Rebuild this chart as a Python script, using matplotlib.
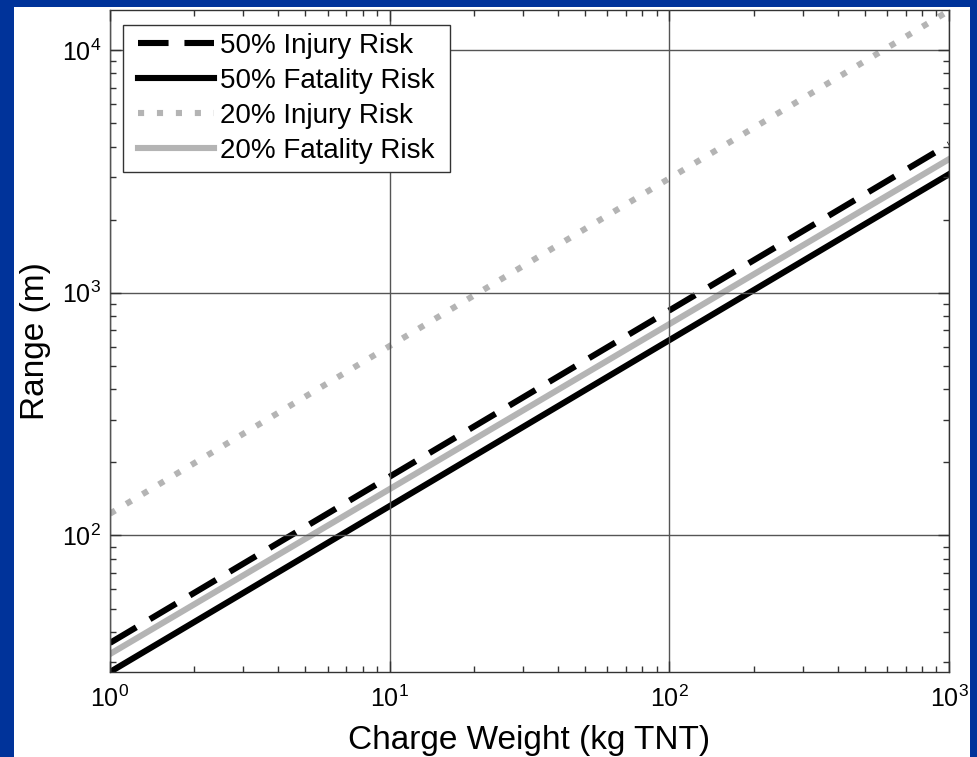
import matplotlib
matplotlib.use("Agg")
import matplotlib.pyplot as plt
import numpy as np
from matplotlib.patches import Rectangle

plt.rcParams['font.family'] = ['Liberation Sans', 'DejaVu Sans']
plt.rcParams['mathtext.fontset'] = 'custom'
plt.rcParams['mathtext.rm'] = 'Liberation Sans'
plt.rcParams['mathtext.it'] = 'Liberation Sans'

# Data: charge weight (kg TNT) endpoints and range (m)
charge_weight = [1, 1000]
inj50 = [36.1, 4090]
fat50 = [27.4, 3076]
inj20 = [123, 14500]
fat20 = [32.5, 3548]

labels = ["50% Injury Risk", "50% Fatality Risk", "20% Injury Risk", "20% Fatality Risk"]
xtick_vals = [1, 10, 100, 1000]
ytick_vals = [100, 1000, 10000]

W, H = 978, 757
fig = plt.figure(figsize=(W / 100, H / 100), dpi=100)
fig.patch.set_facecolor('#00339A')
fig.patches.append(Rectangle((14 / W, 0), (970 - 14) / W, 1 - 7 / H,
                             transform=fig.transFigure, facecolor='white',
                             edgecolor='none', zorder=-10))

ax = fig.add_axes([110 / W, 1 - 672 / H, (949 - 110) / W, (672 - 10) / H])
ax.set_zorder(5)
ax.set_xscale('log')
ax.set_yscale('log')

lw = 4.4
l1, = ax.plot(charge_weight, inj50, color='black', lw=lw, dashes=(5, 2.6),
              dash_capstyle='butt', label=labels[0])
l2, = ax.plot(charge_weight, fat50, color='black', lw=lw, label=labels[1])
l3, = ax.plot(charge_weight, inj20, color='#b4b4b4', lw=lw, dashes=(1, 2.1),
              dash_capstyle='butt', label=labels[2])
l4, = ax.plot(charge_weight, fat20, color='#b4b4b4', lw=lw, label=labels[3])

ax.set_xlim(1, 1000)
ax.set_ylim(27.4, 14600)
ax.set_xticks(xtick_vals)
ax.set_yticks(ytick_vals)
ax.set_xticklabels([r'$10^{%d}$' % int(np.log10(v)) for v in xtick_vals])
ax.set_yticklabels([r'$10^{%d}$' % int(np.log10(v)) for v in ytick_vals])

ax.grid(True, which='major', color='#555555', lw=1.0)
ax.set_axisbelow(False)
for s in ax.spines.values():
    s.set_color('#333333')
    s.set_linewidth(1.0)
ax.tick_params(which='both', direction='in', top=True, right=True, colors='#333333',
               labelcolor='black', labelsize=18)
ax.tick_params(which='major', length=8, width=1)
ax.tick_params(axis='x', which='major', pad=10)
ax.tick_params(axis='y', which='major', pad=6.5)
ax.tick_params(which='minor', length=4, width=1)

ax.set_xlabel('Charge Weight (kg TNT)', fontsize=24, labelpad=9)
ax.set_ylabel('Range (m)', fontsize=24, labelpad=8)

# legend: vertical padding small, horizontal padding larger -> custom frame
leg = ax.legend(loc='upper left', fontsize=20, frameon=False, handlelength=2.75,
                handletextpad=0.2, labelspacing=0.32, borderpad=0.22,
                borderaxespad=0.0, bbox_to_anchor=(0.0262, 0.9743))
fig.canvas.draw()
bb = leg.get_window_extent()
hpad, vpad = 9, 2
frame = Rectangle((bb.x0 - hpad, bb.y0 - vpad), bb.width + 2 * hpad, bb.height + 2 * vpad,
                  transform=None, facecolor='white', edgecolor='#333333',
                  lw=1.0, zorder=4)
ax.add_artist(frame)
leg.set_zorder(6)

fig.savefig('out.png', dpi=100, facecolor=fig.get_facecolor())
